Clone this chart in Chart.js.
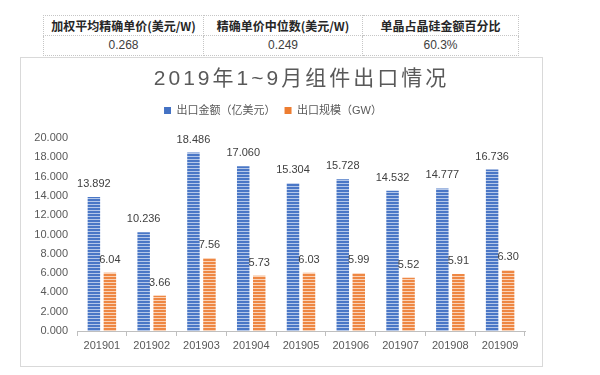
<!DOCTYPE html>
<html><head><meta charset="utf-8">
<script src="https://cdn.jsdelivr.net/npm/chart.js@4.4.0/dist/chart.umd.min.js"></script>
<style>
html,body{margin:0;padding:0;background:#fff;width:600px;height:375px;overflow:hidden;}
#tbl{position:absolute;left:43px;top:15px;border-collapse:collapse;table-layout:fixed;}
#tbl td{border:1px dotted #c6c6c6;height:19px;padding:0;text-align:center;font-size:12px;color:#262626;line-height:19px;white-space:nowrap;}
#tbl tr.h td{font-family:"Noto Sans CJK SC",sans-serif;font-weight:bold;}
#tbl tr.v td{font-family:"Liberation Sans",Arial,sans-serif;color:#404040;}
#box{position:absolute;left:20px;top:57px;width:521px;height:308px;border:1px solid #d9d9d9;}
canvas{display:block;}
</style></head>
<body>
<table id="tbl"><colgroup><col style="width:160px"><col style="width:159px"><col style="width:156px"></colgroup>
<tr class="h"></tr><tr class="v"></tr></table>
<div id="box"><canvas id="c" width="521" height="308"></canvas></div>
<script>
// ---- data ----
const tableHeaders = ['加权平均精确单价(美元/W)', '精确单价中位数(美元/W)', '单晶占晶硅金额百分比'];
const tableValues = ['0.268', '0.249', '60.3%'];
const chartTitle = '2019年1~9月组件出口情况';
const categories = ['201901', '201902', '201903', '201904', '201905', '201906', '201907', '201908', '201909'];
const seriesNames = ['出口金额（亿美元）', '出口规模（GW）'];
const exportAmount = [13.892, 10.236, 18.486, 17.060, 15.304, 15.728, 14.532, 14.777, 16.736];
const exportScale = [6.04, 3.66, 7.56, 5.73, 6.03, 5.99, 5.52, 5.91, 6.30];
const yMin = 0, yMax = 20, yStep = 2;

// ---- table ----
const rows = document.querySelectorAll('#tbl tr');
tableHeaders.forEach(t => { const td = document.createElement('td'); td.textContent = t; rows[0].appendChild(td); });
tableValues.forEach(t => { const td = document.createElement('td'); td.textContent = t; rows[1].appendChild(td); });

// ---- chart ----
const F = '"Liberation Sans", "Noto Sans CJK SC", sans-serif';
const canvas = document.getElementById('c');
const ctx = canvas.getContext('2d');
function stripe(dark, light) {
  const c = document.createElement('canvas'); c.width = 4; c.height = 3;
  const g = c.getContext('2d');
  g.fillStyle = dark; g.fillRect(0, 0, 4, 3);
  g.fillStyle = light; g.fillRect(0, 2, 4, 1);
  return ctx.createPattern(c, 'repeat');
}
const solid = ['#4472C4', '#ED7D31'];
const pats = [stripe('#4A77C6', '#B4C7E9'), stripe('#EE8743', '#FAD3B8')];

const valueLabels = {
  id: 'valueLabels',
  afterDatasetsDraw(chart) {
    const c = chart.ctx; c.save();
    c.font = '11px ' + F; c.fillStyle = '#404040'; c.textAlign = 'center'; c.textBaseline = 'middle';
    chart.data.datasets.forEach((ds, i) => {
      chart.getDatasetMeta(i).data.forEach((bar, j) => {
        c.fillText(ds.data[j].toFixed(i === 0 ? 3 : 2), bar.x, bar.y - 13);
      });
    });
    c.restore();
  }
};
const spacedTitle = {
  id: 'spacedTitle',
  afterDraw(chart) {
    const c = chart.ctx, a = chart.chartArea; c.save();
    c.font = '21px ' + F; c.fillStyle = '#595959'; c.textAlign = 'center'; c.textBaseline = 'middle';
    try { c.letterSpacing = '3px'; } catch (e) {}
    c.fillText(chartTitle, (a.left + a.right) / 2 + 0.5, 21);
    c.restore();
  }
};

new Chart(canvas, {
  type: 'bar',
  data: {
    labels: categories,
    datasets: [
      { label: seriesNames[0], data: exportAmount, backgroundColor: pats[0], categoryPercentage: 0.643, barPercentage: 0.78 },
      { label: seriesNames[1], data: exportScale, backgroundColor: pats[1], categoryPercentage: 0.643, barPercentage: 0.78 }
    ]
  },
  options: {
    responsive: false, animation: false, devicePixelRatio: 1,
    layout: { padding: { left: 0, right: 17, top: 38, bottom: 0 } },
    scales: {
      x: {
        grid: { display: true, drawOnChartArea: false, drawTicks: true, tickLength: 5, color: '#bfbfbf', offset: true },
        border: { display: true, color: '#bfbfbf' },
        ticks: { font: { size: 11, family: F }, color: '#595959', padding: 3, maxRotation: 0, autoSkip: false },
        afterFit(s) { s.height = 35; }
      },
      y: {
        min: yMin, max: yMax,
        ticks: { stepSize: yStep, callback: v => Number(v).toFixed(3), font: { size: 11, family: F }, color: '#595959', padding: 9 },
        grid: { display: false, drawTicks: false },
        border: { display: false },
        afterFit(s) { s.width = 56; }
      }
    },
    plugins: {
      title: { display: false },
      subtitle: { display: true, text: '', weight: 500, padding: { top: 11, bottom: 0 }, font: { size: 1, lineHeight: 1 } },
      legend: {
        display: true, position: 'top',
        labels: {
          boxWidth: 7, boxHeight: 7, padding: 9, color: '#595959', font: { size: 11, family: F },
          generateLabels(chart) {
            return Chart.defaults.plugins.legend.labels.generateLabels(chart).map(l => Object.assign(l, { fillStyle: solid[l.datasetIndex], strokeStyle: solid[l.datasetIndex], lineWidth: 0 }));
          }
        }
      },
      tooltip: { enabled: false }
    }
  },
  plugins: [valueLabels, spacedTitle]
});
</script>
</body></html>
